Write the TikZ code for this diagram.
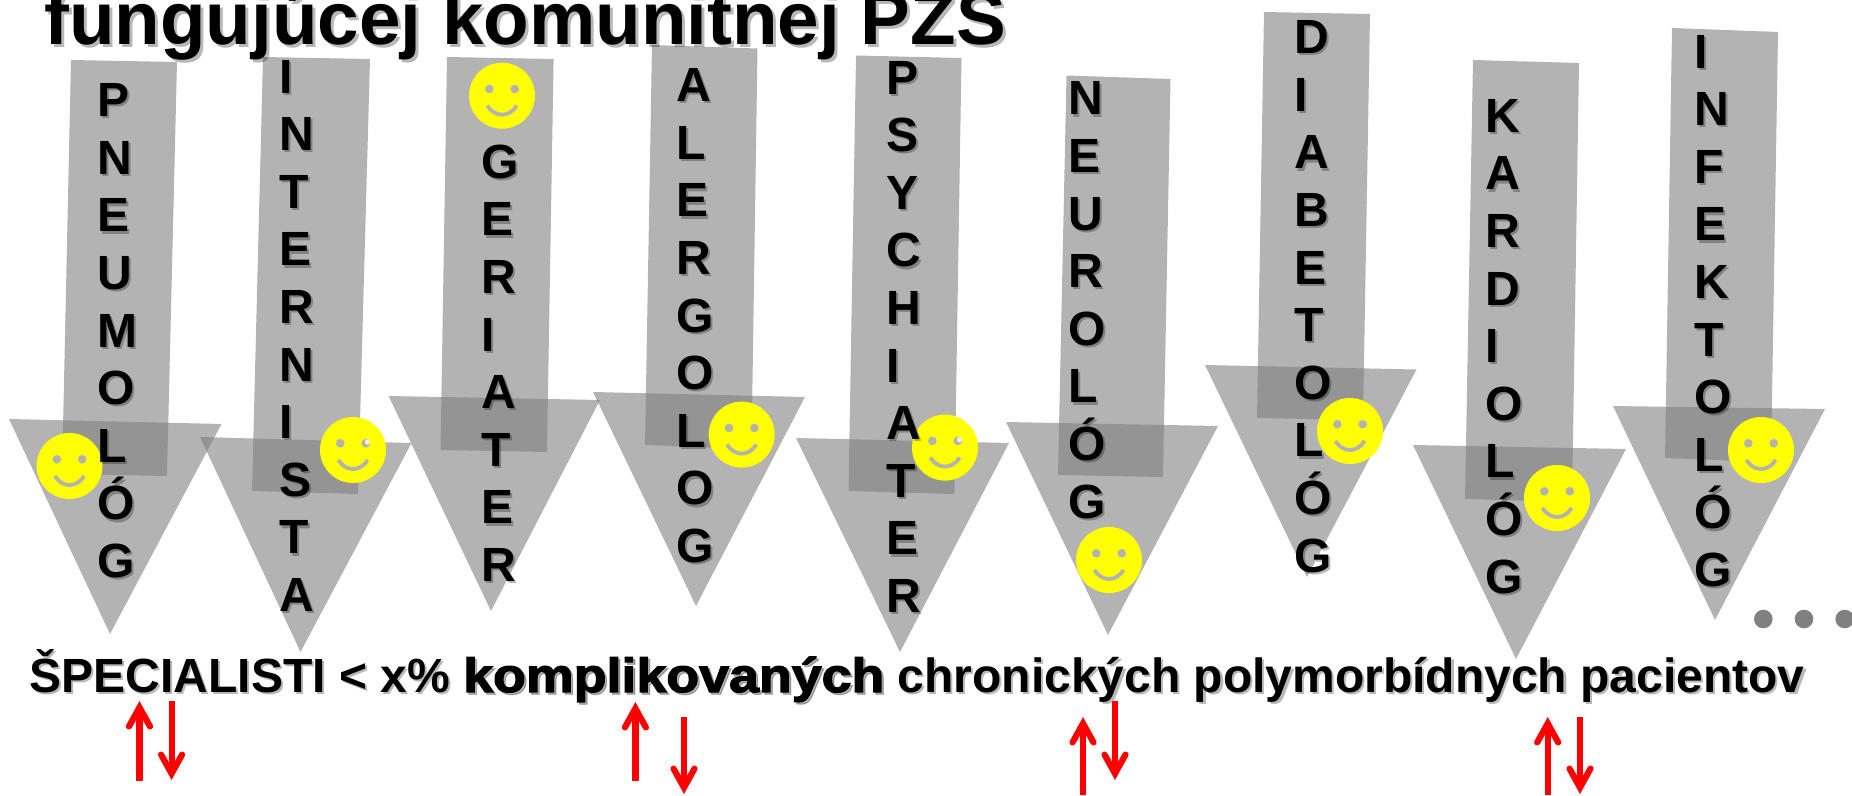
\documentclass[tikz,border=0pt]{standalone}
\usepackage{fontspec}
\setmainfont{Liberation Sans}
\newfontface\heavyfont[FakeBold=2.6,FakeStretch=1.12]{Liberation Sans Bold}
\usetikzlibrary{arrows.meta}
\definecolor{stemgray}{HTML}{808080}
\definecolor{facegray}{HTML}{B2B2B2}
\definecolor{smileyellow}{RGB}{255,255,0}
\tikzset{
  stem/.style={fill=stemgray,fill opacity=.6},
  head/.style={fill=stemgray,fill opacity=.6},
  letters/.style={inner sep=0pt,anchor=base west,align=left,
    font=\fontsize{48}{57.6}\selectfont\bfseries},
  softshadow/.style={text=black,text opacity=.28},
  smiley/.style={circle,fill=smileyellow,minimum size=66pt,inner sep=0pt,
    path picture={
      \fill[facegray] ([shift={(-12.7,-6.7)}]path picture bounding box.center) circle (4.3pt);
      \fill[facegray] ([shift={(12.7,-6.7)}]path picture bounding box.center) circle (4.3pt);
      \draw[facegray,line width=3.8pt]
        ([shift={(-14.7,10)}]path picture bounding box.center)
        .. controls ([shift={(-7,22)}]path picture bounding box.center)
        and ([shift={(7,22)}]path picture bounding box.center)
        .. ([shift={(14.7,10)}]path picture bounding box.center);
    }},
  glint/.style={fill=white,fill opacity=.8},
  dot/.style={circle,fill=stemgray,minimum size=18.6pt,inner sep=0pt},
  redarrow/.style={draw=red,line width=6.2pt,
    -{Straight Barb[length=19pt,width=21pt,line cap=round,line join=miter]}},
  textline/.style={inner sep=0pt,anchor=base west,font=\fontsize{48}{57.6}\selectfont\bfseries},
  titleline/.style={textline,font=\fontsize{74.6}{80}\selectfont\bfseries},
}
\newcommand{\letterstack}[3]{
  \node[letters,softshadow] at ([shift={(2.2,2.2)}]#2) {#3};
  \node[letters] (#1) at (#2) {#3};
}
\begin{document}
\begin{tikzpicture}[x=1pt,y=-1pt]
  \useasboundingbox (0,0) rectangle (1852,795);

  % 1
  \fill[stem] (71,60) -- (177,62) -- (167,476) -- (62,474) -- cycle;
  \fill[head] (9,419) -- (221.5,424) -- (110,634) -- cycle;
  \node[smiley] (smileA) at (69.5,466) {};
  \letterstack{pneumolog}{97.3,577.5}{P\\N\\E\\U\\M\\O\\L\\Ó\\G}

  % 2
  \fill[stem] (263,57) -- (370,59) -- (358,494) -- (252,491) -- cycle;
  \fill[head] (200,437) -- (411.5,443) -- (300.5,652) -- cycle;
  \node[smiley] (smileB) at (353,450) {};
  \fill[glint] ([shift={(14.5,-8)}]smileB.center) circle (2.6pt);
  \letterstack{internista}{279.5,611.5}{I\\N\\T\\E\\R\\N\\I\\S\\T\\A}

  % 3
  \fill[stem] (447,57) -- (553.6,59) -- (547,452) -- (440.5,450) -- cycle;
  \fill[head] (388.6,396) -- (600,400) -- (491,611) -- cycle;
  \node[smiley] (smileC) at (502,95.7) {};
  \letterstack{geriater}{481.3,581.5}{G\\E\\R\\I\\A\\T\\E\\R}

  % 4
  \fill[stem] (652,45) -- (757.5,48.5) -- (751.5,449) -- (645,445) -- cycle;
  \fill[head] (593,392) -- (805,397) -- (696,606) -- cycle;
  \node[smiley] (smileD) at (741.7,434.6) {};
  \letterstack{alergolog}{676,562.5}{A\\L\\E\\R\\G\\O\\L\\O\\G}

  % 5
  \fill[stem] (856,55.5) -- (961.5,58) -- (954.5,494) -- (848.5,491) -- cycle;
  \fill[head] (796,438) -- (1009,443) -- (900,652) -- cycle;
  \node[smiley] (smileE) at (945,447.6) {};
  \fill[glint] ([shift={(14.5,-8)}]smileE.center) circle (2.6pt);
  \letterstack{psychiater}{886.5,612.5}{P\\S\\Y\\C\\H\\I\\A\\T\\E\\R}

  % 6
  \fill[stem] (1066.5,75.5) -- (1170.5,79) -- (1163,477) -- (1058,475) -- cycle;
  \fill[head] (1006,422) -- (1218,426) -- (1108,635) -- cycle;
  \node[smiley] (smileF) at (1109,560) {};
  \letterstack{neurolog}{1068.5,518}{N\\E\\U\\R\\O\\L\\Ó\\G}

  % 7
  \fill[stem] (1264,12) -- (1370,14) -- (1363,420) -- (1257,418) -- cycle;
  \fill[head] (1205,365) -- (1416.5,369.5) -- (1307,577) -- cycle;
  \node[smiley] (smileG) at (1350,431) {};
  \letterstack{diabetolog}{1294,572}{D\\I\\A\\B\\E\\T\\O\\L\\Ó\\G}

  % 8
  \fill[stem] (1473,60) -- (1579,63) -- (1572,502) -- (1465,499) -- cycle;
  \fill[head] (1413,445) -- (1626,449) -- (1516,659) -- cycle;
  \node[smiley] (smileH) at (1557,498) {};
  \letterstack{kardiolog}{1485.5,593}{K\\A\\R\\D\\I\\O\\L\\Ó\\G}

  % 9
  \fill[stem] (1672,28) -- (1778,32) -- (1771,462) -- (1665,458) -- cycle;
  \fill[head] (1613,406) -- (1825,409) -- (1715,620) -- cycle;
  \node[smiley] (smileI) at (1761,450) {};
  \letterstack{infektolog}{1694,586.5}{I\\N\\F\\E\\K\\T\\O\\L\\Ó\\G}

  % title, cut by the top edge
  \node[titleline,softshadow] at (47,47) {fungujúcej komunitnej PZS};
  \node[titleline] (title) at (44,44) {fungujúcej komunitnej PZS};

  % bottom line
  \node[textline,softshadow] at (31.7,694.2) {ŠPECIALISTI < x\% {\heavyfont komplikovaných} chronických polymorbídnych pacientov};
  \node[textline] (specialisti) at (29.5,692) {ŠPECIALISTI < x\% {\heavyfont komplikovaných} chronických polymorbídnych pacientov};

  % dots
  \node[dot] (dotA) at (1763.3,619) {};
  \node[dot] (dotB) at (1804,619) {};
  \node[dot] (dotC) at (1844.7,619) {};

  % red arrows
  \foreach \n/\ax/\ay/\bx/\by in {
    upA/139.5/781/139.5/701, downA/171.6/701/171.6/780,
    upB/635.4/781/635.4/702, downB/684/717/684/794,
    upC/1083/795/1083/717, downC/1115/701/1115/780,
    upD/1547.7/795/1547.7/717, downD/1580/717/1580/794} {
    \coordinate (\n from) at (\ax,\ay);
    \coordinate (\n to) at (\bx,\by);
    \draw[redarrow] (\n from) -- (\n to);
  }
\end{tikzpicture}
\end{document}
